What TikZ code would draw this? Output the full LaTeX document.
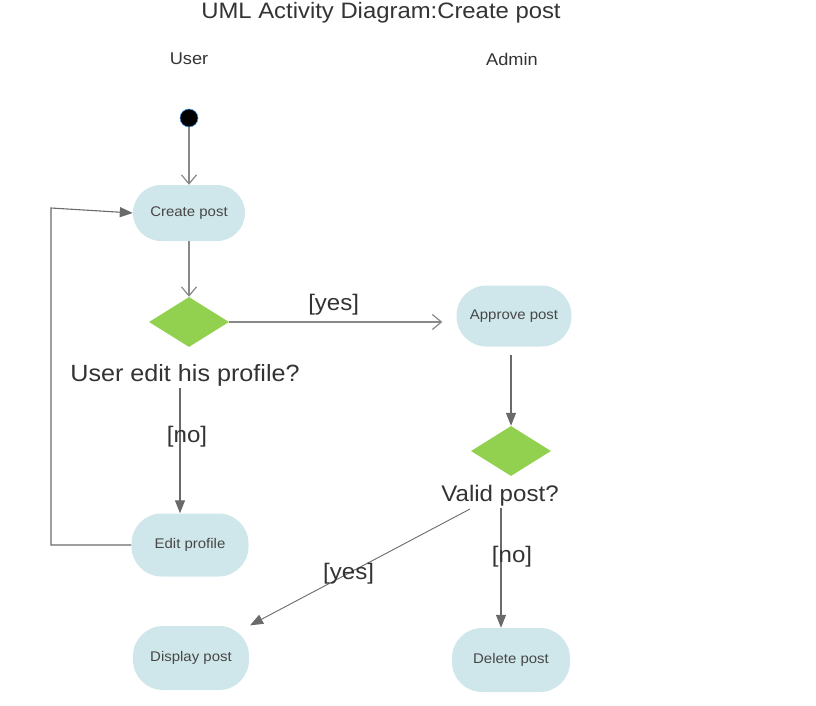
\documentclass[tikz,border=0pt]{standalone}
\usepackage{fontspec}
\setmainfont{Liberation Sans}[FakeStretch=1.07]
\usetikzlibrary{shapes.geometric,arrows.meta}
\definecolor{pill}{HTML}{CFE7EA}
\definecolor{dgreen}{HTML}{92D050}
\definecolor{txt}{HTML}{333333}
\definecolor{ln}{HTML}{6A6A6A}
\tikzset{
  pillbox/.style={rectangle, rounded corners=30pt, fill=pill, minimum width=114pt, minimum height=60pt, text=txt!90, font=\fontsize{14}{16}\selectfont, inner sep=0pt},
  decision/.style={diamond, fill=dgreen, minimum width=80pt, minimum height=50pt, inner sep=0pt},
  bigtext/.style={text=txt, font=\fontsize{22.5}{26}\selectfont, inner sep=0pt},
  lanetext/.style={text=txt, font=\fontsize{17}{20}\selectfont, inner sep=0pt},
  openarrow/.style={draw=ln!80, line width=1.2pt, -{Straight Barb[length=9pt,width=15pt,line width=1.2pt]}},
  filledarrow/.style={draw=ln, line width=1.1pt, -{Triangle[length=13pt,width=10pt]}},
}
\begin{document}
\begin{tikzpicture}[x=1pt,y=-1pt]
\useasboundingbox (0,0) rectangle (816,706);
% titles
\node[text=txt, font=\fontsize{22.3}{24}\selectfont, inner sep=0pt] (title) at (381,12.5) {UML Activity Diagram:Create post};
\node[lanetext] (user) at (189,59) {User};
\node[lanetext] (admin) at (512,59) {Admin};
% nodes
\node[circle, fill=black, draw=blue!50!cyan!70, line width=0.5pt, minimum size=18pt, inner sep=0pt] (start) at (189,118) {};
\node[pillbox, minimum width=112pt, minimum height=56pt, rounded corners=28pt] (create) at (189,213) {Create post};
\node[decision] (d1) at (189,322) {};
\node[bigtext, font=\fontsize{23.5}{26}\selectfont] (q1) at (185,375) {User edit his profile?};
\node[pillbox, minimum width=115pt, minimum height=61pt] (approve) at (514,316) {Approve post};
\node[decision] (d2) at (511,451) {};
\node[bigtext] (q2) at (500,496) {Valid post?};
\node[pillbox, minimum width=117pt, minimum height=63pt] (edit) at (190,545) {Edit profile};
\node[pillbox, minimum width=116pt, minimum height=64pt] (display) at (191,658) {Display post};
\node[pillbox, minimum width=118pt, minimum height=64pt] (delete) at (511,660) {Delete post};
% helper coordinates
\coordinate (fbA) at (51,545);
\coordinate (fbB) at (51,208);
\coordinate (noA) at (180,388);
\coordinate (yesB) at (470,509);
\coordinate (noB) at (501,508);
% connectors
\draw[openarrow] (start) -- (create);
\draw[openarrow] (create) -- (d1);
\draw[openarrow, shorten >=14pt] (d1.east) -- (approve.west |- d1.east)
  node[pos=0.46, above=6pt, bigtext] (lyes1) {[yes]};
\draw[filledarrow, shorten <=8pt] (d2.north |- approve.south) -- (d2.north);
\draw[filledarrow] (noA) -- (noA |- edit.north)
  node[pos=0.39, bigtext, xshift=7pt] (lno1) {[no]};
\draw[filledarrow] (edit.west) -- (fbA) -- (fbB) -- (create.west);
\draw[filledarrow, line width=0.9pt, shorten >=1pt] (yesB) -- (display.north east)
  node[pos=0.55, bigtext] (lyes2) {[yes]};
\draw[filledarrow] (noB) -- (noB |- delete.north)
  node[pos=0.41, bigtext, xshift=11pt] (lno2) {[no]};
\end{tikzpicture}
\end{document}
